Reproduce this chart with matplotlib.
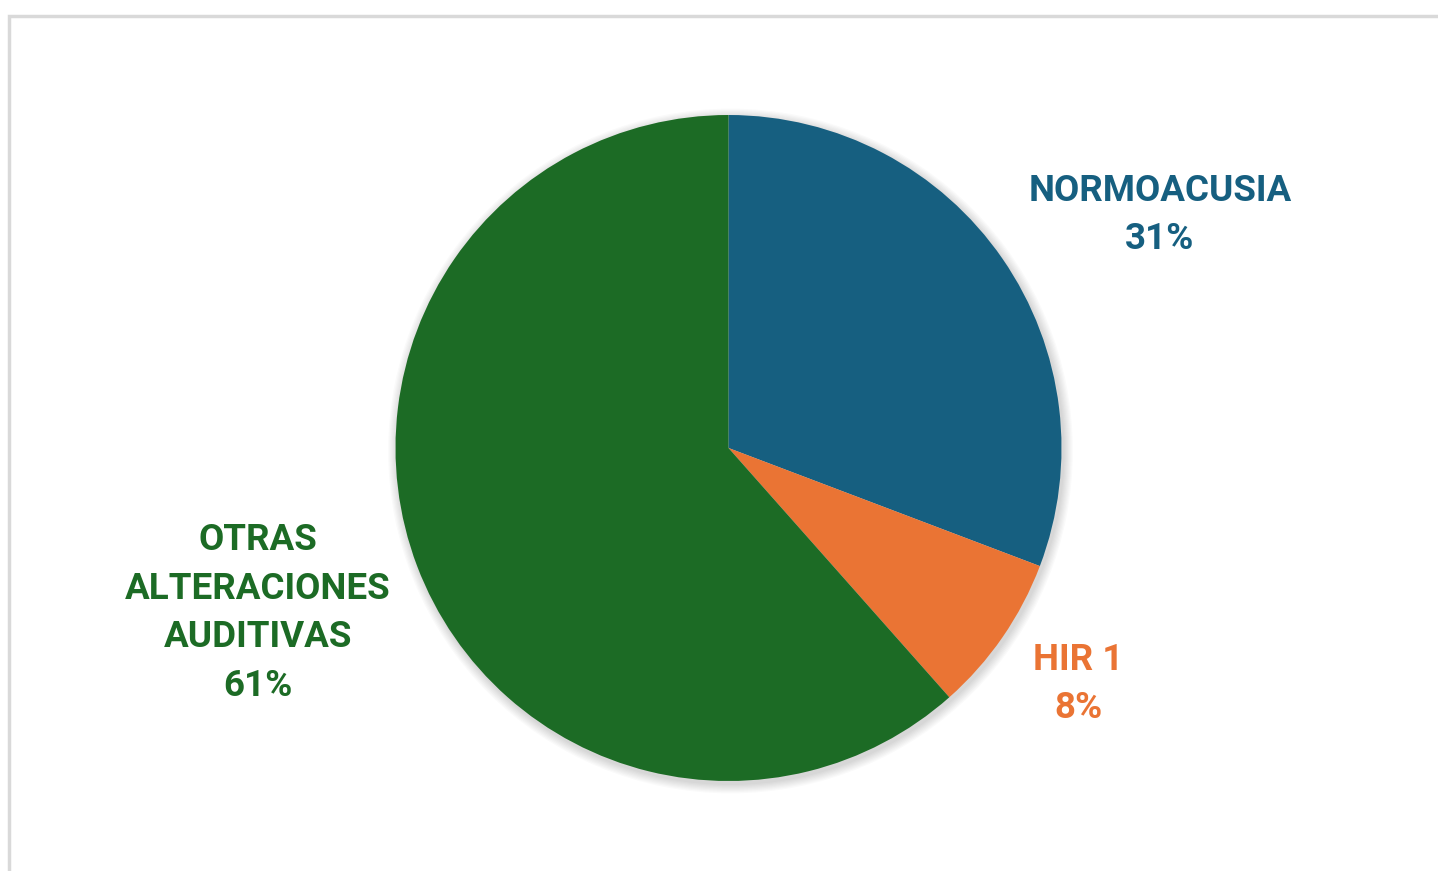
import matplotlib
matplotlib.use("Agg")
import matplotlib.pyplot as plt
from matplotlib.patches import Circle, Rectangle

categories = ["NORMOACUSIA", "HIR 1", "OTRAS\nALTERACIONES\nAUDITIVAS"]
values = [4, 1, 8]                      # slice sizes
pct_labels = ["31%", "8%", "61%"]       # percentages as printed on the chart
colors = ["#165f80", "#ea7434", "#1c6b25"]

W, H = 1438, 871
fig = plt.figure(figsize=(W / 100, H / 100), dpi=100)
ax = fig.add_axes([0, 0, 1, 1])
ax.set_xlim(0, W)
ax.set_ylim(0, H)
ax.set_aspect("equal")
ax.axis("off")

# chart frame (light gray border on left and top)
ax.add_patch(Rectangle((8.5, -20), W + 40, H - 15.5 + 20, fill=False,
                       edgecolor="#d9d9d9", linewidth=2.5, zorder=0))

cx, cy, r = 728.5, H - 448, 333

# soft shadow
for i in range(8):
    ax.add_patch(Circle((cx + 2, cy - 3), r + 1 + i * 1.2, facecolor="#000000",
                        alpha=0.018, edgecolor="none", zorder=1))

wedges, _ = ax.pie(values, colors=colors, startangle=90, counterclock=False,
                   center=(cx, cy), radius=r, frame=True,
                   wedgeprops=dict(linewidth=0, zorder=2))
ax.set_xlim(0, W)
ax.set_ylim(0, H)
ax.axis("off")

font = dict(family=["Roboto", "DejaVu Sans"], fontweight="bold", fontsize=26.5,
            ha="center", va="center", linespacing=1.46)

pos = [(1160, H - 215), (1078, H - 684), (258, H - 613)]
for cat, p, c, (x, y) in zip(categories, pct_labels, colors, pos):
    ax.text(x, y, f"{cat}\n{p}", color=c, zorder=5, **font)

fig.savefig("out.png", dpi=100, facecolor="white")
